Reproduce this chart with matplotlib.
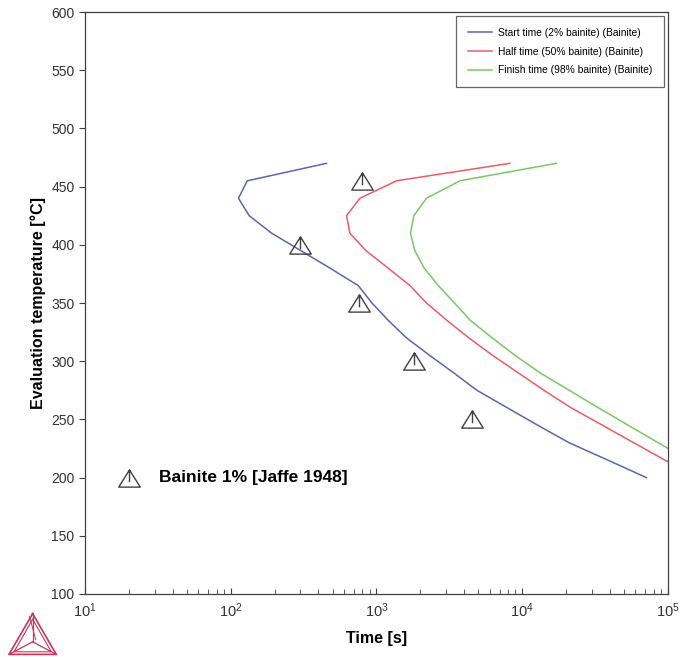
import numpy as np
import matplotlib.pyplot as plt
from matplotlib.path import Path
from matplotlib.lines import Line2D

plt.rcParams['font.family'] = ['Liberation Sans', 'DejaVu Sans']
plt.rcParams['mathtext.fontset'] = 'custom'
plt.rcParams['mathtext.rm'] = 'Liberation Sans'
plt.rcParams['mathtext.it'] = 'Liberation Sans:italic'
plt.rcParams['mathtext.bf'] = 'Liberation Sans:bold'

# temperatures (deg C) and times (s)
temp = [470, 455, 440, 425, 410, 395, 380, 365, 350, 335, 320, 305,
        290, 275, 260, 245, 230, 215, 200]
start_time = [455, 130, 113, 134, 191, 303, 480, 750, 933, 1208, 1610,
              2323, 3390, 4900, 7920, 12800, 21000, 38800, 71400]
half_time = [8240, 1374, 771, 624, 658, 847, 1205, 1698, 2208, 3055,
             4315, 6280, 9420, 14130, 21700, 35600, 58300, 95800, 166000]
finish_time = [17200, 3740, 2208, 1807, 1714, 1836, 2128, 2660, 3435,
               4425, 6240, 8950, 13300, 21100, 33400, 53500, 85900,
               138000, 229000]

# experimental points, Jaffe 1948
exp_time = [800, 300, 760, 1800, 4500]
exp_temp = [455, 400, 350, 300, 250]

labels = ["Start time (2% bainite) (Bainite)",
          "Half time (50% bainite) (Bainite)",
          "Finish time (98% bainite) (Bainite)"]
colors = ["#5966b0", "#ef5a63", "#78c863"]

# warning-triangle marker: triangle plus a vertical stroke
warn = Path([(0, 0.8), (-1, -0.8), (1, -0.8), (0, 0.8), (0, 0.8), (0, -0.35)],
            [Path.MOVETO, Path.LINETO, Path.LINETO, Path.CLOSEPOLY,
             Path.MOVETO, Path.LINETO])

fig = plt.figure(figsize=(6.8, 6.57), dpi=100)
ax = fig.add_axes([0.125, 0.0959, 0.857, 0.8858])

for t, lab, c in zip([start_time, half_time, finish_time], labels, colors):
    ax.plot(t, temp, color=c, lw=1.1, label=lab)

ax.plot(exp_time, exp_temp, ls='none', marker=warn, ms=15.5, mfc='none',
        mec='#404040', mew=1.0)

# in-plot key for the experimental data
ax.plot([20], [200], ls='none', marker=warn, ms=15.5, mfc='none',
        mec='#404040', mew=1.0)
ax.text(32, 200, "Bainite 1% [Jaffe 1948]", fontsize=12.5, fontweight='bold',
        va='center', ha='left')

ax.set_xscale('log')
ax.set_xlim(10, 1e5)
ax.set_ylim(100, 600)
ax.set_yticks(np.arange(100, 601, 50))

for s in ax.spines.values():
    s.set_color('#404040')
    s.set_linewidth(0.9)

ax.tick_params(axis='y', which='both', direction='out', length=4,
               color='#404040', labelsize=10, labelcolor='#333333',
               right=False)
ax.tick_params(axis='x', which='major', direction='in', length=4,
               color='#404040', labelsize=10.5, labelcolor='#333333',
               pad=5, top=False)
ax.tick_params(axis='x', which='minor', direction='in', length=3.5,
               color='#404040', top=False)

ax.set_xlabel("Time [s]", fontsize=11.5, fontweight='bold', labelpad=8)
ax.set_ylabel("Evaluation temperature [°C]", fontsize=11.5,
              fontweight='bold', labelpad=4)

leg = ax.legend(loc='upper right', fontsize=7.4, frameon=True, fancybox=False,
                edgecolor='#404040', handlelength=2.3, borderpad=1.15,
                labelspacing=0.85, handletextpad=0.55, borderaxespad=0.3,
                bbox_to_anchor=(0.9985, 0.9985))
leg.get_frame().set_linewidth(0.9)

# logo in the bottom-left corner
lg = fig.add_axes([0.011, 0.002, 0.074, 0.066])
lg.set_xlim(0, 1)
lg.set_ylim(0, 1)
lg.axis('off')
lc = '#c8365e'
A, B, C, O = (0.5, 0.97), (0.03, 0.03), (0.97, 0.03), (0.5, 0.32)
lg.add_line(Line2D([A[0], B[0], C[0], A[0]], [A[1], B[1], C[1], A[1]],
                   color=lc, lw=1.2))
lg.add_line(Line2D([0.5, 0.13, 0.87, 0.5], [0.84, 0.09, 0.09, 0.84],
                   color=lc, lw=0.8))
for P in (A, B, C):
    lg.add_line(Line2D([O[0], P[0]], [O[1], P[1]], color=lc, lw=0.9))
lg.add_line(Line2D([0.44, 0.56], [0.9, 0.37], color=lc, lw=0.7))

fig.savefig('out.png', dpi=100)
